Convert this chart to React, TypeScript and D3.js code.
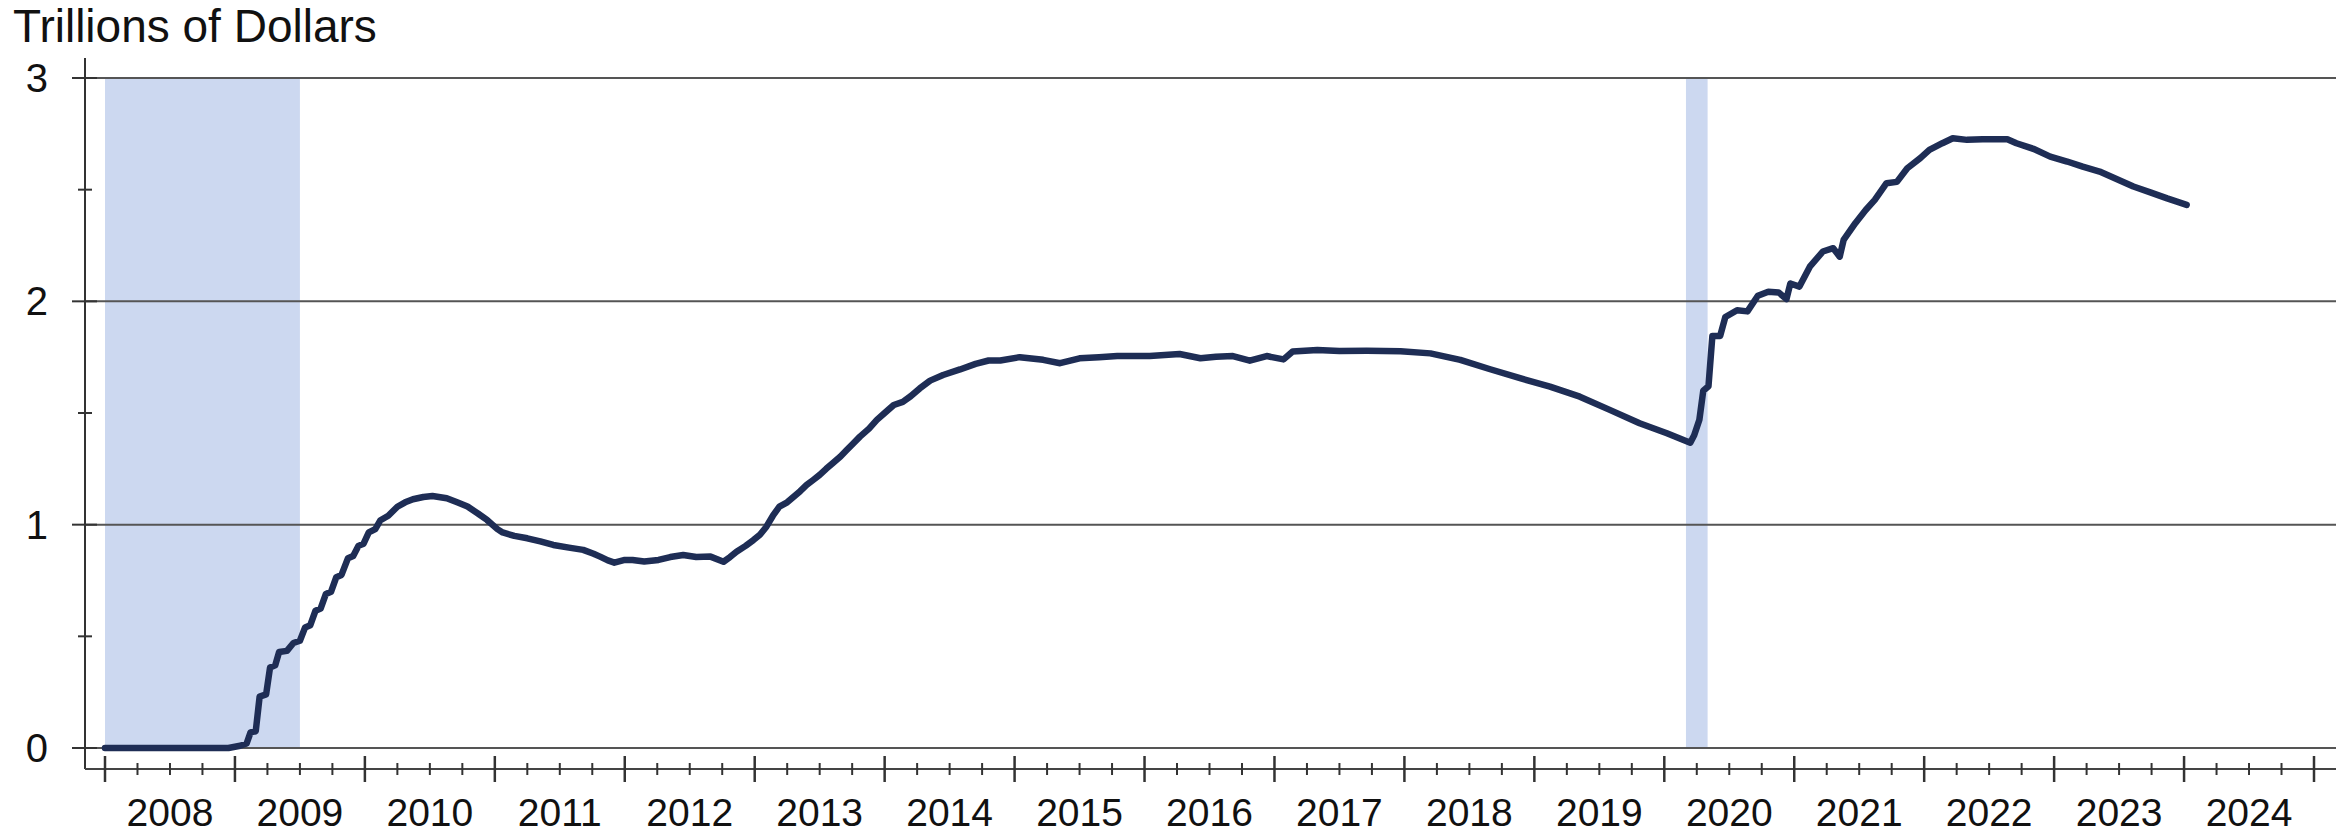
import React from "react";
import * as d3 from "d3";

// ---- Data (decimal years, trillions of dollars) ----
const dates: number[] = [
  2008.0, 2008.5, 2008.95, 2009.04, 2009.09, 2009.12, 2009.16, 2009.19, 2009.24, 2009.27,
  2009.31, 2009.34, 2009.4, 2009.45, 2009.5, 2009.54, 2009.58, 2009.62, 2009.66, 2009.7,
  2009.74, 2009.78, 2009.82, 2009.87, 2009.91, 2009.95, 2009.99, 2010.03, 2010.08, 2010.12,
  2010.18, 2010.25, 2010.31, 2010.37, 2010.45, 2010.52, 2010.63, 2010.71, 2010.79, 2010.87,
  2010.94, 2011.02, 2011.06, 2011.15, 2011.25, 2011.35, 2011.45, 2011.57, 2011.68, 2011.76,
  2011.81, 2011.87, 2011.92, 2012.0, 2012.06, 2012.15, 2012.26, 2012.35, 2012.45, 2012.55,
  2012.66, 2012.76, 2012.81, 2012.86, 2012.93, 2012.99, 2013.04, 2013.09, 2013.14, 2013.19,
  2013.25, 2013.3, 2013.35, 2013.4, 2013.45, 2013.5, 2013.55, 2013.6, 2013.66, 2013.71,
  2013.76, 2013.81, 2013.88, 2013.94, 2014.0, 2014.07, 2014.14, 2014.2, 2014.27, 2014.35,
  2014.45, 2014.58, 2014.7, 2014.8, 2014.89, 2015.04, 2015.22, 2015.35, 2015.5, 2015.65,
  2015.79, 2016.04, 2016.27, 2016.43, 2016.55, 2016.68, 2016.81, 2016.94, 2017.07, 2017.14,
  2017.33, 2017.5, 2017.71, 2017.97, 2018.2, 2018.43, 2018.66, 2018.89, 2019.12, 2019.35,
  2019.58, 2019.81, 2020.02, 2020.2, 2020.23, 2020.27, 2020.3, 2020.34, 2020.37, 2020.43,
  2020.47, 2020.56, 2020.64, 2020.72, 2020.8, 2020.88, 2020.94, 2020.97, 2021.04, 2021.12,
  2021.22, 2021.3, 2021.35, 2021.38, 2021.47, 2021.55, 2021.62, 2021.71, 2021.79, 2021.87,
  2021.97, 2022.04, 2022.14, 2022.22, 2022.33, 2022.45, 2022.58, 2022.64, 2022.71, 2022.84,
  2022.97, 2023.1, 2023.22, 2023.35, 2023.48, 2023.61, 2023.74, 2023.87, 2024.02,
];
const values: number[] = [
  0, 0, 0, 0.01, 0.02, 0.07, 0.075, 0.23, 0.24, 0.36,
  0.37, 0.43, 0.435, 0.47, 0.48, 0.54, 0.55, 0.615, 0.625, 0.69,
  0.7, 0.765, 0.775, 0.85, 0.86, 0.905, 0.915, 0.965, 0.98, 1.02,
  1.04, 1.08, 1.1, 1.114, 1.124, 1.128, 1.118, 1.1, 1.081, 1.05,
  1.021, 0.98, 0.965, 0.95, 0.939, 0.925, 0.909, 0.897, 0.887, 0.87,
  0.857, 0.84, 0.83, 0.842, 0.842, 0.835, 0.842, 0.855, 0.864, 0.855,
  0.857, 0.834, 0.855, 0.879, 0.905, 0.931, 0.955, 0.991, 1.04, 1.081,
  1.1, 1.125, 1.15, 1.178, 1.2, 1.223, 1.25, 1.275, 1.305, 1.335,
  1.365, 1.394, 1.43, 1.469, 1.5, 1.536, 1.55, 1.575, 1.61, 1.645,
  1.67, 1.695, 1.72, 1.735, 1.735, 1.75, 1.738, 1.723, 1.745, 1.75,
  1.755, 1.755, 1.764, 1.745, 1.752, 1.755, 1.734, 1.755, 1.74, 1.775,
  1.782, 1.778, 1.779, 1.777, 1.767, 1.738, 1.696, 1.656, 1.618, 1.573,
  1.514, 1.454, 1.409, 1.367, 1.4, 1.47, 1.6, 1.62, 1.845, 1.845,
  1.93, 1.96, 1.955, 2.025, 2.043, 2.04, 2.01, 2.08, 2.066, 2.155,
  2.223, 2.238, 2.2, 2.275, 2.35, 2.409, 2.454, 2.529, 2.535, 2.596,
  2.641, 2.678, 2.708, 2.73, 2.723, 2.726, 2.726, 2.726, 2.708, 2.683,
  2.648, 2.626, 2.603, 2.581, 2.548, 2.514, 2.488, 2.461, 2.432,
];
const yearLabels: number[] = d3.range(2008, 2025);
const yTicks: number[] = [0, 1, 2, 3];
const yMinorTicks: number[] = [0.5, 1.5, 2.5];
const recessionStart: number[] = [2008.0, 2020.1667];
const recessionEnd: number[] = [2009.5, 2020.3333];
const title = "Trillions of Dollars";

const W = 2349;
const H = 835;
const FONT = "'Liberation Sans', Arial, sans-serif";

export default function App() {
  const x = d3.scaleLinear().domain([2008, 2025]).range([105, 2314]);
  const y = d3.scaleLinear().domain([0, 3]).range([748, 78]);
  const axisY = 769;
  const axisX = 85;
  const plotRight = 2336;

  const majorX = d3.range(2008, 2026);
  const minorX = d3.range(2008, 2025).flatMap((yr) => [0.25, 0.5, 0.75].map((q) => yr + q));

  const line = d3
    .line<number>()
    .x((_, i) => x(dates[i]))
    .y((v) => y(v))
    .curve(d3.curveLinear);

  return (
    <div style={{ position: "fixed", left: 0, top: 0, width: W, height: H, background: "#fff" }}>
      <svg width={W} height={H} style={{ display: "block" }}>
        <rect x={0} y={0} width={W} height={H} fill="#fff" />
        {recessionStart.map((s, i) => (
          <rect
            key={"r" + i}
            x={x(s)}
            y={y(3)}
            width={x(recessionEnd[i]) - x(s)}
            height={y(0) - y(3)}
            fill="#ccd8f0"
          />
        ))}
        {yTicks.map((t) => (
          <line key={"g" + t} x1={axisX} x2={plotRight} y1={y(t)} y2={y(t)} stroke="#555" strokeWidth={2} />
        ))}
        {/* axes */}
        <line x1={axisX} x2={axisX} y1={y(3) - 20} y2={axisY} stroke="#333" strokeWidth={2} />
        <line x1={axisX} x2={plotRight} y1={axisY} y2={axisY} stroke="#444" strokeWidth={2} />
        {yTicks.map((t) => (
          <line key={"yt" + t} x1={axisX - 13} x2={axisX + 12} y1={y(t)} y2={y(t)} stroke="#333" strokeWidth={2} />
        ))}
        {yMinorTicks.map((t) => (
          <line key={"ym" + t} x1={axisX - 7} x2={axisX + 7} y1={y(t)} y2={y(t)} stroke="#333" strokeWidth={2} />
        ))}
        {yTicks.map((t) => (
          <text
            key={"yl" + t}
            x={48}
            y={y(t) + 14}
            textAnchor="end"
            fontFamily={FONT}
            fontSize={40}
            fill="#111"
          >
            {t}
          </text>
        ))}
        {majorX.map((t) => (
          <line key={"xt" + t} x1={x(t)} x2={x(t)} y1={axisY - 13} y2={axisY + 13} stroke="#333" strokeWidth={2.5} />
        ))}
        {minorX.map((t) => (
          <line key={"xm" + t} x1={x(t)} x2={x(t)} y1={axisY - 6} y2={axisY + 6} stroke="#333" strokeWidth={2} />
        ))}
        {yearLabels.map((yr) => (
          <text
            key={"xl" + yr}
            x={x(yr + 0.5)}
            y={826}
            textAnchor="middle"
            fontFamily={FONT}
            fontSize={39}
            fill="#111"
          >
            {yr}
          </text>
        ))}
        <path d={line(values) || ""} fill="none" stroke="#1e2d55" strokeWidth={6.5} strokeLinejoin="round" strokeLinecap="round" />
        <text x={13} y={42} fontFamily={FONT} fontSize={46} fill="#111">
          {title}
        </text>
      </svg>
    </div>
  );
}
